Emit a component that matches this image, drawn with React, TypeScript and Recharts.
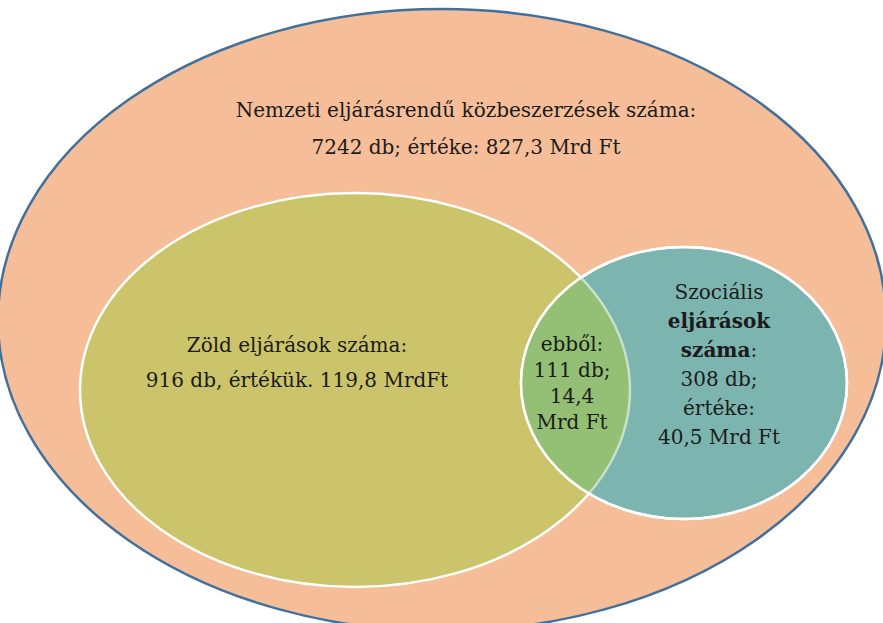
import React from 'react';
import { ScatterChart, Scatter, XAxis, YAxis } from 'recharts';

// ellipse sets, in the chart's own data units (x: 0..883, y: 0..623 from top)
const setNames = ['Nemzeti', 'Zöld', 'Szociális'];
const setCx = [442, 355, 684];
const setCy = [320, 390, 383];
const setRx = [444, 275, 163];
const setRy = [311, 197, 136];

// text blocks: "**" marks bold parts
const nemzetiLines = ['Nemzeti eljárásrendű közbeszerzések száma:', '7242 db; értéke: 827,3 Mrd Ft'];
const zoldLines = ['Zöld eljárások száma:', '916 db, értékük. 119,8 MrdFt'];
const kozosLines = ['ebből:', '111 db;', '14,4', 'Mrd Ft'];
const szocialisLines = ['Szociális', '**eljárások**', '**száma**:', '308 db;', 'értéke:', '40,5 Mrd Ft'];

const W = 883;
const H = 623;

const fills: Record<string, string> = {
  Nemzeti: '#f5be98',
  Zöld: '#cbc46a',
  Szociális: '#7cb5af',
};
const strokes: Record<string, string> = {
  Nemzeti: '#41709f',
  Zöld: '#ffffff',
  Szociális: '#ffffff',
};

const sets = setNames.map((name, i) => ({
  name,
  x: setCx[i],
  y: setCy[i],
  rx: setRx[i],
  ry: setRy[i],
}));

const labels = [
  { x: 466, y: 117, lines: nemzetiLines, gap: 37 },
  { x: 297, y: 352, lines: zoldLines, gap: 35 },
  { x: 572, y: 351, lines: kozosLines, gap: 26 },
  { x: 719, y: 299, lines: szocialisLines, gap: 29 },
];

// data unit -> pixel factor (axes span the full chart, no margins)
const kx = W / W;
const ky = H / H;

const SetShape = (props: any) => {
  const { cx, cy, payload } = props;
  return (
    <ellipse
      cx={cx}
      cy={cy}
      rx={payload.rx * kx}
      ry={payload.ry * ky}
      fill={fills[payload.name]}
      stroke={strokes[payload.name]}
      strokeWidth={2.5}
    />
  );
};

// overlap of Zöld and Szociális
const OverlapShape = (props: any) => {
  const { cx, cy } = props;
  const z = sets[1];
  const s = sets[2];
  const zx = cx + (z.x - s.x) * kx;
  const zy = cy + (z.y - s.y) * ky;
  return (
    <g>
      <defs>
        <clipPath id="clipZold">
          <ellipse cx={zx} cy={zy} rx={z.rx * kx} ry={z.ry * ky} />
        </clipPath>
        <clipPath id="clipSzoc">
          <ellipse cx={cx} cy={cy} rx={s.rx * kx} ry={s.ry * ky} />
        </clipPath>
      </defs>
      <ellipse cx={cx} cy={cy} rx={s.rx * kx} ry={s.ry * ky} fill="#93c074" clipPath="url(#clipZold)" />
      <ellipse
        cx={zx}
        cy={zy}
        rx={z.rx * kx}
        ry={z.ry * ky}
        fill="none"
        stroke="rgba(255,255,255,0.55)"
        strokeWidth={2.5}
        clipPath="url(#clipSzoc)"
      />
      <ellipse cx={cx} cy={cy} rx={s.rx * kx} ry={s.ry * ky} fill="none" stroke="#ffffff" strokeWidth={2.5} />
    </g>
  );
};

const renderLine = (line: string) =>
  line.split('**').map((part, j) => (
    <tspan key={j} fontWeight={j % 2 === 1 ? 'bold' : 'normal'}>
      {part}
    </tspan>
  ));

const LabelShape = (props: any) => {
  const { cx, cy, payload } = props;
  return (
    <text
      textAnchor="middle"
      fontFamily="'Palatino Linotype', 'Book Antiqua', Palatino, 'DejaVu Serif', serif"
      fontSize={20}
      fill="#1b1b1b"
    >
      {payload.lines.map((line: string, i: number) => (
        <tspan key={i} x={cx} y={cy + i * payload.gap}>
          {renderLine(line)}
        </tspan>
      ))}
    </text>
  );
};

const App: React.FC = () => {
  return (
    <div style={{ position: 'absolute', left: 0, top: 0, width: W, height: H, background: '#ffffff' }}>
      <ScatterChart width={W} height={H} margin={{ top: 0, right: 0, bottom: 0, left: 0 }}>
        <XAxis type="number" dataKey="x" domain={[0, W]} hide />
        <YAxis type="number" dataKey="y" domain={[0, H]} reversed hide />
        <Scatter data={[sets[0]]} shape={SetShape} isAnimationActive={false} />
        <Scatter data={[sets[1]]} shape={SetShape} isAnimationActive={false} />
        <Scatter data={[sets[2]]} shape={SetShape} isAnimationActive={false} />
        <Scatter data={[sets[2]]} shape={OverlapShape} isAnimationActive={false} />
        <Scatter data={labels} shape={LabelShape} isAnimationActive={false} />
      </ScatterChart>
    </div>
  );
};

export default App;
